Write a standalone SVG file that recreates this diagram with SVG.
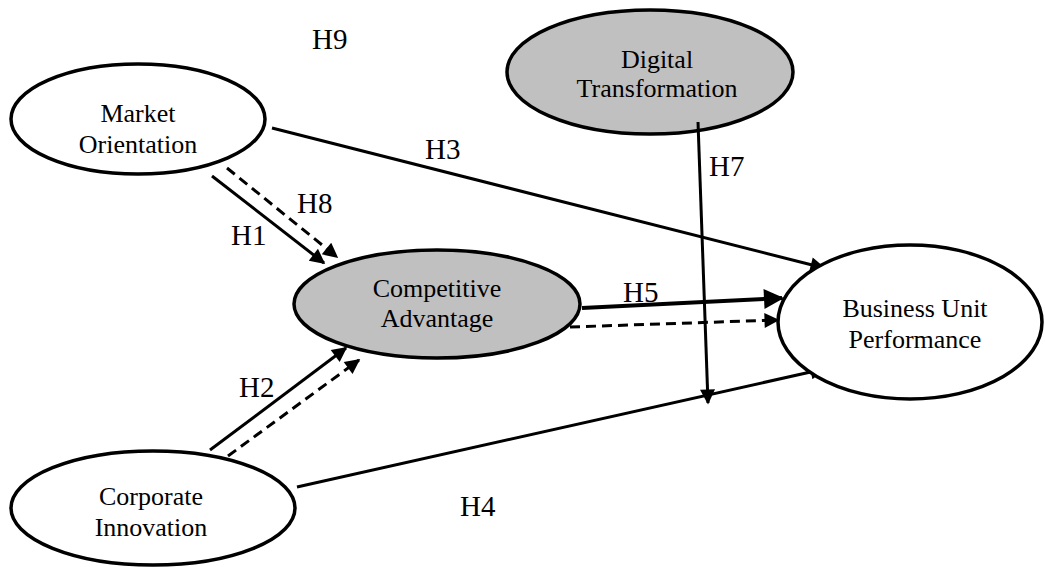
<svg xmlns="http://www.w3.org/2000/svg" width="1045" height="567" viewBox="0 0 1045 567">
<style>
.node{stroke:#000;stroke-width:3.5}
.w{fill:#fff}.g{fill:#c0c0c0}
.t{font-family:"Liberation Serif","Times New Roman",serif;font-size:26px;fill:#000;text-anchor:middle}
.l{font-family:"Liberation Serif","Times New Roman",serif;font-size:29px;fill:#000}
.c{stroke:#000;stroke-width:3;fill:none;marker-end:url(#ah)}
.d{stroke-dasharray:10 6}
</style>
<defs>
<marker id="ah" viewBox="0 0 10 10" refX="9" refY="5" markerWidth="6" markerHeight="5" orient="auto" markerUnits="strokeWidth">
<path d="M0,0 L10,5 L0,10 z" fill="#000"/>
</marker>
</defs>
<g id="digital-transformation">
<ellipse class="node g" cx="650" cy="72" rx="143" ry="62"/>
<text class="t" x="657" y="68">Digital</text>
<text class="t" x="657" y="97">Transformation</text>
</g>
<g id="connectors">
<line class="c" x1="272" y1="128" x2="824" y2="268"/>
<line class="c" x1="212" y1="176" x2="324" y2="263"/>
<line class="c d" x1="227" y1="168" x2="337" y2="257"/>
<line class="c" x1="582" y1="308" x2="782" y2="298" style="stroke-width:4"/>
<line class="c d" x1="570" y1="327" x2="778" y2="320"/>
<line class="c" x1="698" y1="122" x2="708" y2="403"/>
<line class="c" x1="297" y1="487" x2="824" y2="369"/>
<line class="c" x1="210" y1="450" x2="346" y2="348"/>
<line class="c d" x1="228" y1="456" x2="359" y2="360"/>
</g>
<g id="labels">
<text class="l" x="312" y="49">H9</text>
<text class="l" x="425" y="159">H3</text>
<text class="l" x="709" y="176">H7</text>
<text class="l" x="297" y="213">H8</text>
<text class="l" x="231" y="245">H1</text>
<text class="l" x="623" y="302">H5</text>
<text class="l" x="239" y="397">H2</text>
<text class="l" x="460" y="516">H4</text>
</g>
<g id="market-orientation">
<ellipse class="node w" cx="138" cy="119" rx="127" ry="55"/>
<text class="t" x="138" y="122">Market</text>
<text class="t" x="138" y="153">Orientation</text>
</g>
<g id="competitive-advantage">
<ellipse class="node g" cx="437" cy="304" rx="143" ry="54"/>
<text class="t" x="437" y="297">Competitive</text>
<text class="t" x="437" y="327">Advantage</text>
</g>
<g id="business-unit-performance">
<ellipse class="node w" cx="910" cy="322" rx="132" ry="77"/>
<text class="t" x="915" y="317">Business Unit</text>
<text class="t" x="915" y="348">Performance</text>
</g>
<g id="corporate-innovation">
<ellipse class="node w" cx="153" cy="508" rx="142" ry="57"/>
<text class="t" x="151" y="505">Corporate</text>
<text class="t" x="151" y="536">Innovation</text>
</g>
</svg>
